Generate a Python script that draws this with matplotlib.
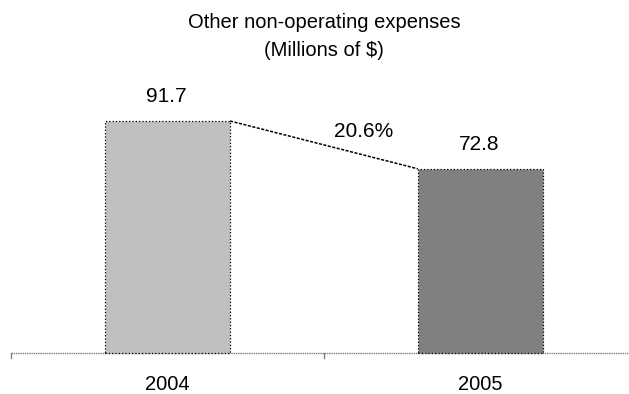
import matplotlib
matplotlib.use("Agg")
import matplotlib.pyplot as plt

years = ["2004", "2005"]
values = [91.7, 72.8]
change_label = "20.6%"
bar_colors = ["#c0c0c0", "#808080"]

plt.rcParams["font.family"] = ["Liberation Sans", "DejaVu Sans"]

fig = plt.figure(figsize=(6.29, 3.94), dpi=100)
ax = fig.add_axes([0, 0, 1, 1])

# pixel scales used to lay out the category axis and value axis
px_x = 313.0
px_y = 232.0 / 91.7
base_px = 41.0
ax.set_xlim(-11 / px_x, (629 - 11) / px_x)
ax.set_ylim(-base_px / px_y, (394 - base_px) / px_y)
ax.axis("off")

pos = [i + 0.5 for i in range(len(years))]
bar_width = 0.4
ax.bar(pos, values, width=bar_width, color=bar_colors,
       edgecolor="black", linewidth=0.9, linestyle=":", zorder=2)

# connector between bar tops with the change label
x0 = pos[0] + bar_width / 2
x1 = pos[1] - bar_width / 2
ax.plot([x0, x1], [values[0], values[1]], color="black", lw=1.1,
        linestyle=(0, (2, 1)), zorder=3)
ax.text(x0 + 0.425, values[0] - 4.0, change_label,
        ha="center", va="center", fontsize=15)

for x, v in zip(pos, values):
    ax.text(x - 0.005, v + 9.5, f"{v:.1f}", ha="center", va="center",
            fontsize=15)

# baseline with category separator ticks
xmax = (629 - 11) / px_x
ax.plot([0, xmax], [0, 0], color="#808080", lw=1.0, linestyle=(0, (1, 0.6)),
        zorder=1)
for t in [0, 1]:
    ax.plot([t, t], [0, -5 / px_y], color="#808080", lw=1.0)

for x, lab in zip(pos, years):
    ax.text(x, -31 / px_y, lab, ha="center", va="center", fontsize=14.5)

fig.text(0.515, 1 - 23 / 394, "Other non-operating expenses", ha="center",
         va="center", fontsize=14.5)
fig.text(0.515, 1 - 50 / 394, "(Millions of $)", ha="center", va="center",
         fontsize=14.5)

fig.savefig("out.png", dpi=100)
